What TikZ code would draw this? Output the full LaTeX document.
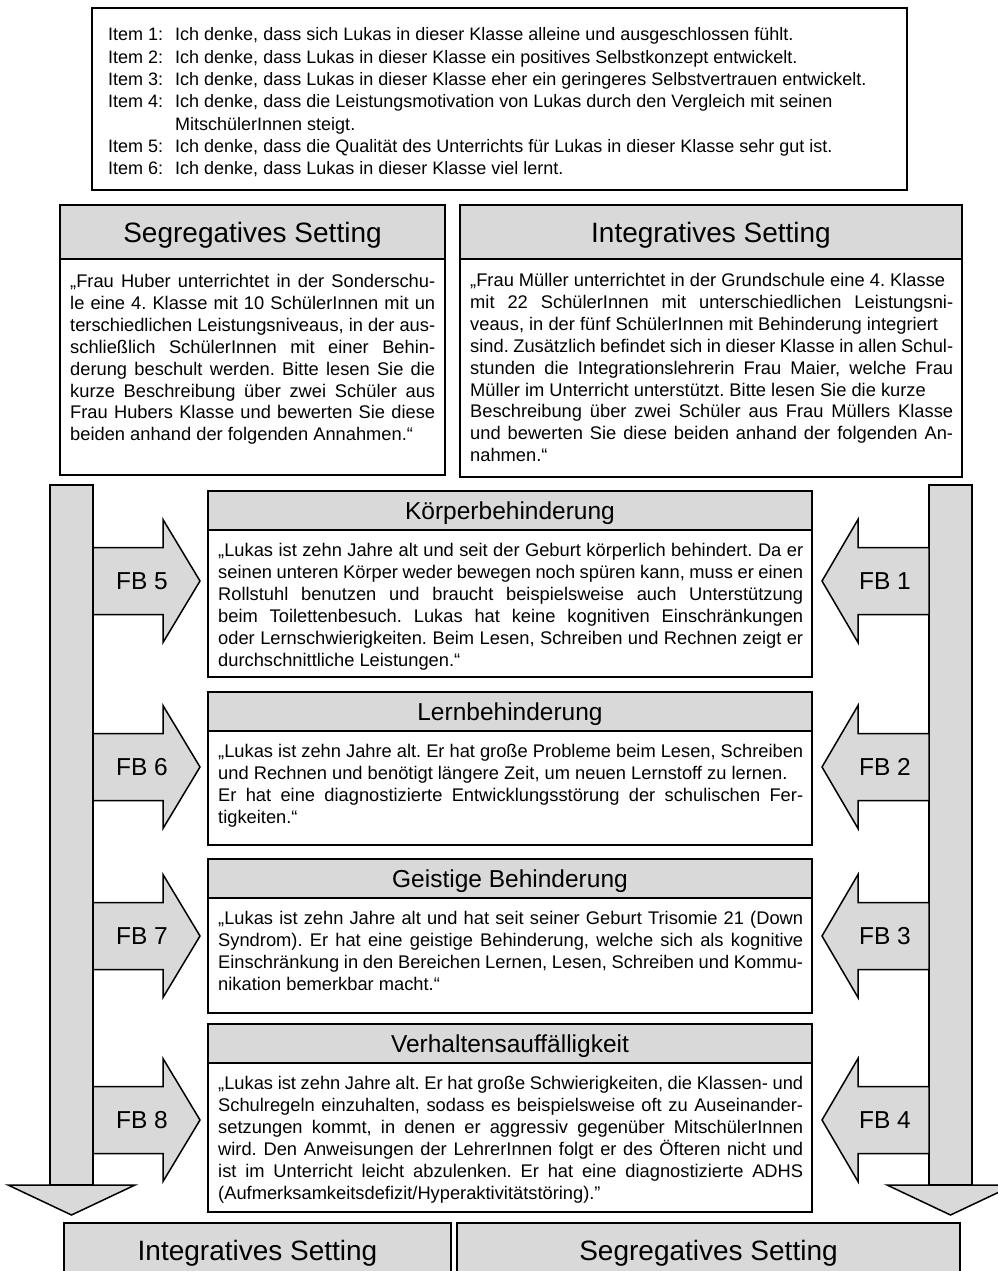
\documentclass[tikz,border=0pt]{standalone}
\usepackage{fontspec}
\setmainfont{Liberation Sans}
\usetikzlibrary{positioning}
\frenchspacing
\definecolor{boxgray}{RGB}{217,217,217}
\newcommand{\bodyfont}{\fontsize{18.3}{21.9}\selectfont}
\newcommand{\itemfont}{\fontsize{18}{22.3}\selectfont}
\newcommand{\titlefont}{\fontsize{28}{32}\selectfont}
\newcommand{\casefont}{\fontsize{24.5}{28}\selectfont}
\tikzset{
  boxline/.style={draw, line width=1.5pt, inner sep=0pt, outer sep=0pt},
  headbox/.style={boxline, fill=boxgray, anchor=north west, text depth=0pt},
  bodybox/.style={boxline, anchor=north west},
  bodytext/.style={inner sep=0pt, align=justify, font=\bodyfont},
  barbox/.style={boxline, fill=boxgray, anchor=north west, minimum width=43, minimum height=700},
  blockarrow/.style={draw, line width=1.5pt, fill=boxgray, line join=miter},
  fblabel/.style={font=\casefont, inner sep=0pt}
}
\begin{document}
\begin{tikzpicture}[x=1pt, y=-1pt]
    \useasboundingbox (0,0) rectangle (998,1271);
    \clip (0,0) rectangle (998,1271);
    % Items
    \node[bodybox, minimum width=815, minimum height=182] (items) at (92,8) {};
    \node[anchor=north west, inner sep=0pt, font=\itemfont] (itemlist) at (108,25) {%
      \begin{tabular}{@{}p{67pt}@{}l@{}}
        Item 1: & Ich denke, dass sich Lukas in dieser Klasse alleine und ausgeschlossen fühlt.\\
        Item 2: & Ich denke, dass Lukas in dieser Klasse ein positives Selbstkonzept entwickelt.\\
        Item 3: & Ich denke, dass Lukas in dieser Klasse eher ein geringeres Selbstvertrauen entwickelt.\\
        Item 4: & Ich denke, dass die Leistungsmotivation von Lukas durch den Vergleich mit seinen\\
                & MitschülerInnen steigt.\\
        Item 5: & Ich denke, dass die Qualität des Unterrichts für Lukas in dieser Klasse sehr gut ist.\\
        Item 6: & Ich denke, dass Lukas in dieser Klasse viel lernt.
      \end{tabular}};
    % Settings
    \node[headbox, minimum width=385, minimum height=54, font=\titlefont] (seghead) at (60,205) {Segregatives Setting};
    \node[bodybox, minimum width=385, minimum height=216, below=0pt of seghead] (segbody) {};
    \node[bodytext, text width=365pt, below right=13pt and 10pt of segbody.north west] (segtext)
      {\strut„Frau Huber unterrichtet in der Sonderschu-\linebreak le eine 4. Klasse mit 10 SchülerInnen mit un\linebreak terschiedlichen Leistungsniveaus, in der aus-\linebreak schließlich SchülerInnen mit einer Behin-\linebreak derung beschult werden. Bitte lesen Sie die\linebreak kurze Beschreibung über zwei Schüler aus\linebreak Frau Hubers Klasse und bewerten Sie diese\linebreak beiden anhand der folgenden Annahmen.“};
    \node[headbox, minimum width=502, minimum height=54, font=\titlefont] (inthead) at (460,205) {Integratives Setting};
    \node[bodybox, minimum width=502, minimum height=218, below=0pt of inthead] (intbody) {};
    \node[bodytext, text width=483pt, below right=12pt and 10pt of intbody.north west] (inttext)
      {\strut„Frau Müller unterrichtet in der Grundschule eine 4. Klasse\\ mit 22 SchülerInnen mit unterschiedlichen Leistungsni-\linebreak veaus, in der fünf SchülerInnen mit Behinderung integriert\\ sind. Zusätzlich befindet sich in dieser Klasse in allen Schul-\linebreak stunden die Integrationslehrerin Frau Maier, welche Frau\linebreak Müller im Unterricht unterstützt. Bitte lesen Sie die kurze\\ Beschreibung über zwei Schüler aus Frau Müllers Klasse\linebreak und bewerten Sie diese beiden anhand der folgenden An-\linebreak nahmen.“};
    % Bars
    \node[barbox] (leftbar) at (50,485) {};
    \node[barbox] (rightbar) at (929,485) {};
    \draw[blockarrow] (leftbar.south) ++(-63.5,0) -- ++(127,0) -- ++(-63.5,30) -- cycle;
    \draw[blockarrow] (rightbar.south) ++(-63.5,0) -- ++(127,0) -- ++(-63.5,30) -- cycle;
    % Cases
    \node[headbox, minimum width=604, minimum height=39, font=\casefont] (koerperhead) at (208,491) {Körperbehinderung};
    \node[bodybox, minimum width=604, minimum height=147, below=0pt of koerperhead] (koerperbody) {};
    \node[bodytext, text width=585pt, below right=11pt and 10pt of koerperbody.north west] (koerpertext)
      {\strut„Lukas ist zehn Jahre alt und seit der Geburt körperlich behindert. Da er\linebreak seinen unteren Körper weder bewegen noch spüren kann, muss er einen\linebreak Rollstuhl benutzen und braucht beispielsweise auch Unterstützung\linebreak beim Toilettenbesuch. Lukas hat keine kognitiven Einschränkungen\linebreak oder Lernschwierigkeiten. Beim Lesen, Schreiben und Rechnen zeigt er\linebreak durchschnittliche Leistungen.“};
    \node[headbox, minimum width=604, minimum height=39, font=\casefont] (lernhead) at (208,692) {Lernbehinderung};
    \node[bodybox, minimum width=604, minimum height=114, below=0pt of lernhead] (lernbody) {};
    \node[bodytext, text width=585pt, below right=11pt and 10pt of lernbody.north west] (lerntext)
      {\strut„Lukas ist zehn Jahre alt. Er hat große Probleme beim Lesen, Schreiben\linebreak und Rechnen und benötigt längere Zeit, um neuen Lernstoff zu lernen.\\ Er hat eine diagnostizierte Entwicklungsstörung der schulischen Fer-\linebreak tigkeiten.“};
    \node[headbox, minimum width=604, minimum height=39, font=\casefont] (geisthead) at (208,859) {Geistige Behinderung};
    \node[bodybox, minimum width=604, minimum height=115, below=0pt of geisthead] (geistbody) {};
    \node[bodytext, text width=585pt, below right=11pt and 10pt of geistbody.north west] (geisttext)
      {\strut„Lukas ist zehn Jahre alt und hat seit seiner Geburt Trisomie 21 (Down\linebreak Syndrom). Er hat eine geistige Behinderung, welche sich als kognitive\linebreak Einschränkung in den Bereichen Lernen, Lesen, Schreiben und Kommu-\linebreak nikation bemerkbar macht.“};
    \node[headbox, minimum width=604, minimum height=39, font=\casefont] (verhhead) at (208,1024) {Verhaltensauffälligkeit};
    \node[bodybox, minimum width=604, minimum height=149, below=0pt of verhhead] (verhbody) {};
    \node[bodytext, text width=585pt, below right=11pt and 10pt of verhbody.north west] (verhtext)
      {\strut„Lukas ist zehn Jahre alt. Er hat große Schwierigkeiten, die Klassen- und\linebreak Schulregeln einzuhalten, sodass es beispielsweise oft zu Auseinander-\linebreak setzungen kommt, in denen er aggressiv gegenüber MitschülerInnen\linebreak wird. Den Anweisungen der LehrerInnen folgt er des Öfteren nicht und\linebreak ist im Unterricht leicht abzulenken. Er hat eine diagnostizierte ADHS\linebreak (Aufmerksamkeitsdefizit/Hyperaktivitätstöring).”};
    % FB arrows
    \foreach \y/\l/\r in {581/5/1, 767/6/2, 936/7/3, 1120/8/4}
    {
    \draw[blockarrow] (93,\y-33.5) -- (163,\y-33.5) -- (163,\y-61.5) -- (200,\y) -- (163,\y+61.5) -- (163,\y+33.5) -- (93,\y+33.5) -- cycle;
    \draw[blockarrow] (929,\y-33.5) -- (858,\y-33.5) -- (858,\y-61.5) -- (822,\y) -- (858,\y+61.5) -- (858,\y+33.5) -- (929,\y+33.5) -- cycle;
    \node[fblabel] (fb\l) at (142,\y) {FB \l};
    \node[fblabel] (fb\r) at (885,\y) {FB \r};
    }
    % Result settings
    \node[headbox, minimum width=387, minimum height=55, font=\titlefont] (intfoot) at (64,1223) {Integratives Setting};
    \node[bodybox, minimum width=387, minimum height=100, below=0pt of intfoot] (intfootbody) {};
    \node[headbox, minimum width=503, minimum height=55, font=\titlefont] (segfoot) at (457,1223) {Segregatives Setting};
    \node[bodybox, minimum width=503, minimum height=100, below=0pt of segfoot] (segfootbody) {};
\end{tikzpicture}
\end{document}
